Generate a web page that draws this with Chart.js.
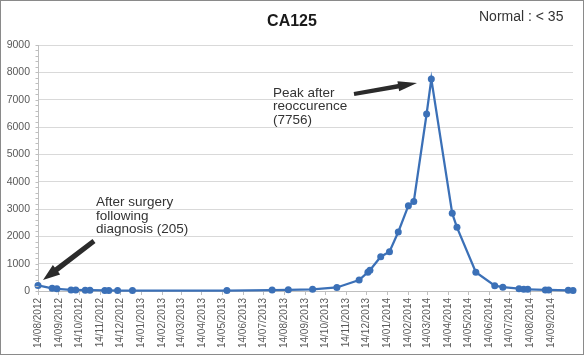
<!DOCTYPE html>
<html>
<head>
<meta charset="utf-8">
<script src="https://cdn.jsdelivr.net/npm/chart.js@4/dist/chart.umd.min.js"></script>
<style>
  html, body { margin: 0; padding: 0; background: #fff; }
  #wrap { width: 585px; height: 356px; }
</style>
</head>
<body>
<div id="wrap"><canvas id="c" width="585" height="356"></canvas></div>
<script>
// ---- data ----
const sampleDates = [
  '2012-08-14','2012-09-04','2012-09-11','2012-10-02','2012-10-09','2012-10-23','2012-10-30',
  '2012-11-21','2012-11-27','2012-12-10','2013-01-01','2013-05-21','2013-07-27','2013-08-20',
  '2013-09-25','2013-10-31','2013-12-03','2013-12-16','2013-12-19','2014-01-04','2014-01-17',
  '2014-01-30','2014-02-14','2014-02-22','2014-03-13','2014-03-20','2014-04-20','2014-04-27',
  '2014-05-25','2014-06-22','2014-07-04','2014-07-28','2014-08-04','2014-08-10','2014-09-05',
  '2014-09-10','2014-10-09','2014-10-16'
];
const ca125Values = [
  205, 100, 80, 40, 40, 30, 30,
  20, 20, 15, 15, 15, 35, 45,
  60, 130, 400, 690, 760, 1255, 1440,
  2160, 3120, 3270, 6475, 7756, 2840, 2330,
  685, 195, 140, 85, 60, 60, 40,
  40, 25, 15
];
const xTickLabels = [
  '14/08/2012','14/09/2012','14/10/2012','14/11/2012','14/12/2012','14/01/2013','14/02/2013',
  '14/03/2013','14/04/2013','14/05/2013','14/06/2013','14/07/2013','14/08/2013','14/09/2013',
  '14/10/2013','14/11/2013','14/12/2013','14/01/2014','14/02/2014','14/03/2014','14/04/2014',
  '14/05/2014','14/06/2014','14/07/2014','14/08/2014','14/09/2014'
];
const yTickValues = [0, 1000, 2000, 3000, 4000, 5000, 6000, 7000, 8000, 9000];

// ---- helpers ----
const BASE = Date.UTC(2012, 7, 14);
function dayFromIso(s) { const [y, m, d] = s.split('-').map(Number); return (Date.UTC(y, m - 1, d) - BASE) / 86400000; }
function dayFromLabel(s) { const [d, m, y] = s.split('/').map(Number); return (Date.UTC(y, m - 1, d) - BASE) / 86400000; }
const points = sampleDates.map((s, i) => ({ x: dayFromIso(s), y: ca125Values[i] }));
const xTickValues = xTickLabels.map(dayFromLabel);

const FONT = "'Liberation Sans', Arial, sans-serif";
const LINE = '#3b70b7';

function drawArrow(ctx, x1, y1, x2, y2, shaftW, headL, headW) {
  const ang = Math.atan2(y2 - y1, x2 - x1);
  const len = Math.hypot(x2 - x1, y2 - y1);
  ctx.save();
  ctx.translate(x1, y1);
  ctx.rotate(ang);
  ctx.beginPath();
  ctx.moveTo(0, -shaftW * 0.45);
  ctx.lineTo(len - headL, -shaftW / 2);
  ctx.lineTo(len - headL, -headW / 2);
  ctx.lineTo(len, 0);
  ctx.lineTo(len - headL, headW / 2);
  ctx.lineTo(len - headL, shaftW / 2);
  ctx.lineTo(0, shaftW * 0.45);
  ctx.closePath();
  ctx.fillStyle = '#2b2b2b';
  ctx.fill();
  ctx.restore();
}

const decor = {
  id: 'decor',
  beforeDraw(chart) {
    const ctx = chart.ctx;
    ctx.save();
    ctx.fillStyle = '#fff';
    ctx.fillRect(0, 0, chart.width, chart.height);
    ctx.restore();
  },
  afterDraw(chart) {
    const ctx = chart.ctx;
    const ys = chart.scales.y;
    ctx.save();
    // minor ticks on y axis
    ctx.strokeStyle = '#bfbfbf';
    ctx.lineWidth = 1;
    const ax = Math.round(ys.right) + 0.5;
    for (let v = 0; v <= 9000; v += 200) {
      const py = Math.round(ys.getPixelForValue(v)) + 0.5;
      ctx.beginPath();
      ctx.moveTo(ax - 3, py);
      ctx.lineTo(ax, py);
      ctx.stroke();
    }
    // border
    ctx.strokeStyle = '#8a8a8a';
    ctx.strokeRect(0.5, 0.5, chart.width - 2, chart.height - 2);
    // title
    ctx.fillStyle = '#1a1a1a';
    ctx.font = 'bold 16px ' + FONT;
    ctx.textAlign = 'center';
    ctx.textBaseline = 'middle';
    ctx.fillText('CA125', 292, 22);
    ctx.font = '14px ' + FONT;
    ctx.textAlign = 'left';
    ctx.fillStyle = '#333';
    ctx.fillText('Normal : < 35', 479, 17);
    // annotations
    ctx.font = '13.5px ' + FONT;
    ctx.fillStyle = '#333';
    ['After surgery', 'following', 'diagnosis (205)'].forEach((t, i) => ctx.fillText(t, 96, 202 + i * 13.8));
    ['Peak after', 'reoccurence', '(7756)'].forEach((t, i) => ctx.fillText(t, 273, 93 + i * 13.7));
    drawArrow(ctx, 94, 241, 43, 280, 5.5, 17, 12);
    drawArrow(ctx, 354, 94, 417, 83, 4.5, 19, 10);
    ctx.restore();
  }
};

new Chart(document.getElementById('c'), {
  type: 'line',
  data: {
    datasets: [{
      data: points,
      borderColor: LINE,
      backgroundColor: LINE,
      borderWidth: 2.25,
      pointRadius: 3.5,
      pointBackgroundColor: LINE,
      pointBorderColor: LINE,
      pointBorderWidth: 0,
      tension: 0,
      clip: false
    }]
  },
  options: {
    responsive: false,
    animation: false,
    layout: { padding: { top: 45, right: 12, left: 0, bottom: 0 } },
    plugins: { legend: { display: false }, tooltip: { enabled: false }, title: { display: false } },
    scales: {
      x: {
        type: 'linear',
        min: 0,
        max: points[points.length - 1].x,
        afterBuildTicks(scale) { scale.ticks = xTickValues.map(v => ({ value: v })); },
        afterFit(scale) { scale.height = 65; },
        ticks: {
          autoSkip: false,
          maxRotation: 90,
          minRotation: 90,
          padding: 3,
          color: '#595959',
          font: { size: 10, family: FONT },
          callback: (v, i) => xTickLabels[i]
        },
        grid: { drawOnChartArea: false, drawTicks: true, tickLength: 4, color: '#bfbfbf' },
        border: { color: '#bfbfbf' }
      },
      y: {
        min: 0,
        max: 9000,
        afterBuildTicks(scale) { scale.ticks = yTickValues.map(v => ({ value: v })); },
        afterFit(scale) { scale.width = 38; },
        ticks: {
          padding: 8,
          color: '#595959',
          font: { size: 10.5, family: FONT },
          callback: v => String(v)
        },
        grid: { color: '#d9d9d9', drawTicks: false },
        border: { color: '#bfbfbf' }
      }
    }
  },
  plugins: [decor]
});
</script>
</body>
</html>
